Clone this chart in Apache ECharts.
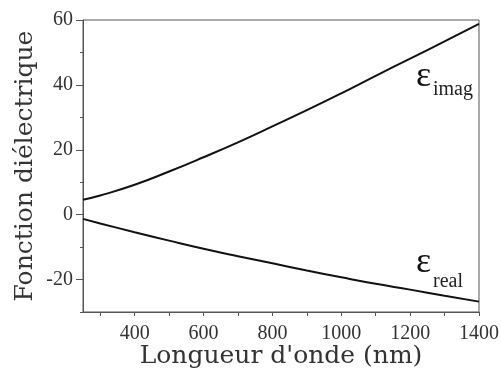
<!DOCTYPE html>
<html><head><meta charset="utf-8">
<script src="https://cdn.jsdelivr.net/npm/echarts@6/dist/echarts.min.js"></script>
<style>html,body{margin:0;padding:0;background:#fff}#c{width:501px;height:371px}</style>
</head><body><div id="c"></div>
<script>
const wavelengths = [250, 300, 400, 500, 600, 700, 800, 900, 1000, 1100, 1200, 1300, 1400];
const epsImag = [4.6, 5.9, 9.2, 13.3, 17.7, 22.3, 27.2, 32.2, 37.4, 42.8, 48.1, 53.4, 58.8];
const epsReal = [-1.3, -2.7, -5.4, -8.0, -10.5, -12.8, -15.0, -17.2, -19.3, -21.3, -23.1, -25.0, -26.8];
const xTickLabels = [400, 600, 800, 1000, 1200, 1400];
const xMinorTicks = [300, 400, 500, 600, 700, 800, 900, 1000, 1100, 1200, 1300, 1400];
const yTickLabels = [-20, 0, 20, 40, 60];
const yMinorTicks = [-30, -10, 10, 30, 50];

const chart = echarts.init(document.getElementById('c'));
const tickFont = {fontFamily: 'Liberation Serif', fontSize: 20, color: '#333', formatter: v => String(v)};
chart.setOption({
  animation: false,
  grid: {left: 83, top: 20, right: 22, bottom: 59, show: true, borderColor: '#555', borderWidth: 1,
         containLabel: false, outerBoundsMode: 'none'},
  xAxis: {
    type: 'value', min: 250, max: 1400,
    name: "Longueur d'onde (nm)", nameLocation: 'middle', nameGap: 32, nameMoveOverlap: false,
    nameTextStyle: {fontFamily: 'DejaVu Serif', fontSize: 25, color: '#333'},
    axisLine: {show: true, onZero: false, lineStyle: {color: '#555', width: 1}},
    axisTick: {show: true, inside: false, length: 4, customValues: xMinorTicks, lineStyle: {color: '#555'}},
    axisLabel: Object.assign({customValues: xTickLabels, margin: 12}, tickFont),
    splitLine: {show: false}
  },
  yAxis: [{
    type: 'value', min: -30, max: 60,
    name: 'Fonction diélectrique', nameLocation: 'middle', nameGap: 45, nameMoveOverlap: false,
    nameTextStyle: {fontFamily: 'DejaVu Serif', fontSize: 25, color: '#333'},
    axisLine: {show: true, onZero: false, lineStyle: {color: '#555', width: 1}},
    axisTick: {show: true, length: 7, customValues: yTickLabels, lineStyle: {color: '#555'}},
    axisLabel: Object.assign({customValues: yTickLabels, margin: 10}, tickFont),
    splitLine: {show: false}
  }, {
    type: 'value', min: -30, max: 60, position: 'left',
    axisLine: {show: false, onZero: false},
    axisTick: {show: true, length: 3, customValues: yMinorTicks, lineStyle: {color: '#555'}},
    axisLabel: {show: false},
    splitLine: {show: false}
  }],
  series: [
    {type: 'line', data: wavelengths.map((w, i) => [w, epsImag[i]]), smooth: true, showSymbol: false,
     lineStyle: {color: '#111', width: 2}},
    {type: 'line', data: wavelengths.map((w, i) => [w, epsReal[i]]), smooth: true, showSymbol: false,
     lineStyle: {color: '#111', width: 2}}
  ],
  graphic: [
    {type: 'text', left: 416, top: 59, style: {text: 'ε', font: '36px "Liberation Serif"', fill: '#111'}},
    {type: 'text', left: 433, top: 80, style: {text: 'imag', font: '20px "Liberation Serif"', fill: '#222'}},
    {type: 'text', left: 416, top: 245, style: {text: 'ε', font: '36px "Liberation Serif"', fill: '#111'}},
    {type: 'text', left: 433, top: 272, style: {text: 'real', font: '20px "Liberation Serif"', fill: '#222'}}
  ]
});
</script></body></html>
